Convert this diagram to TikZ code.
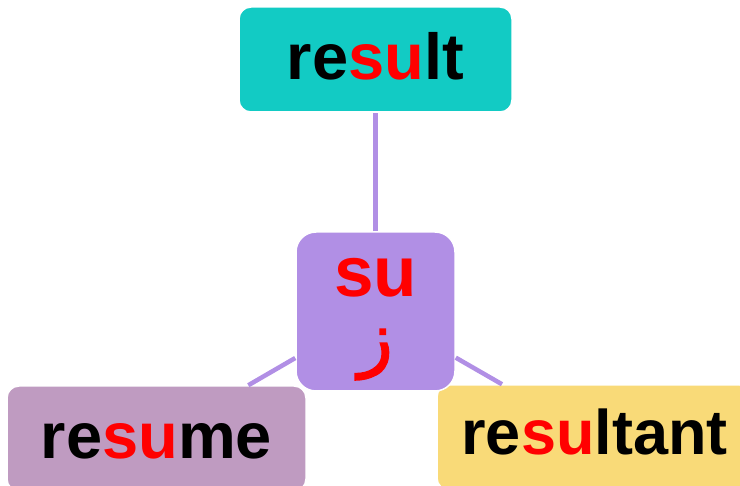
\documentclass[tikz,border=0pt]{standalone}
\usepackage{fontspec}
\setmainfont{Liberation Sans}
\newfontfamily\arabicfont[Script=Arabic,FakeBold=2]{DejaVu Sans}
\TeXXeTstate=1

\definecolor{tealbox}{HTML}{12CBC4}
\definecolor{hubpurple}{HTML}{B18FE5}
\definecolor{mauvebox}{HTML}{BF9BC1}
\definecolor{sandbox}{HTML}{F9DA78}

\newcommand{\redpart}[1]{\textcolor{red}{#1}}

\tikzset{
  wordbox/.style={rounded corners=12pt, draw=white, line width=1.5pt,
    minimum height=105pt, text height=41pt, text depth=0pt, inner sep=0pt,
    font=\bfseries\fontsize{65}{65}\selectfont},
  hub/.style={rounded corners=20pt, draw=white, line width=1.5pt,
    fill=hubpurple, minimum width=159pt, minimum height=159pt},
  link/.style={draw=hubpurple, line width=4.5pt},
}

\begin{document}
\begin{tikzpicture}[x=1pt,y=-1pt]
\useasboundingbox (0,0) rectangle (740,486);

% Word boxes
\node[wordbox, fill=tealbox, minimum width=273pt] (result) at (375.5,59.5) {re\redpart{su}lt};
\node[wordbox, fill=mauvebox, minimum width=299pt] (resume) at (156.5,438.5) {re\redpart{su}me};
\node[wordbox, fill=sandbox, minimum width=315pt, text height=35pt,
  font=\bfseries\fontsize{63}{63}\selectfont] (resultant) at (594.5,437.5) {re\redpart{su}ltant};

% Root box
\node[hub] (su) at (375.5,311.5) {};
\node[anchor=base, red, font=\bfseries\fontsize{71}{71}\selectfont] (suText) at (375.5,297) {su};
\node[anchor=base, red, font=\arabicfont\fontsize{72}{72}\selectfont] (zain) at (375.5,362.5) {\beginR ز\endR};

% Links
\draw[link] (su) -- (result);
\draw[link] (su) -- (resume);
\draw[link] (su) -- (resultant);

\end{tikzpicture}
\end{document}
